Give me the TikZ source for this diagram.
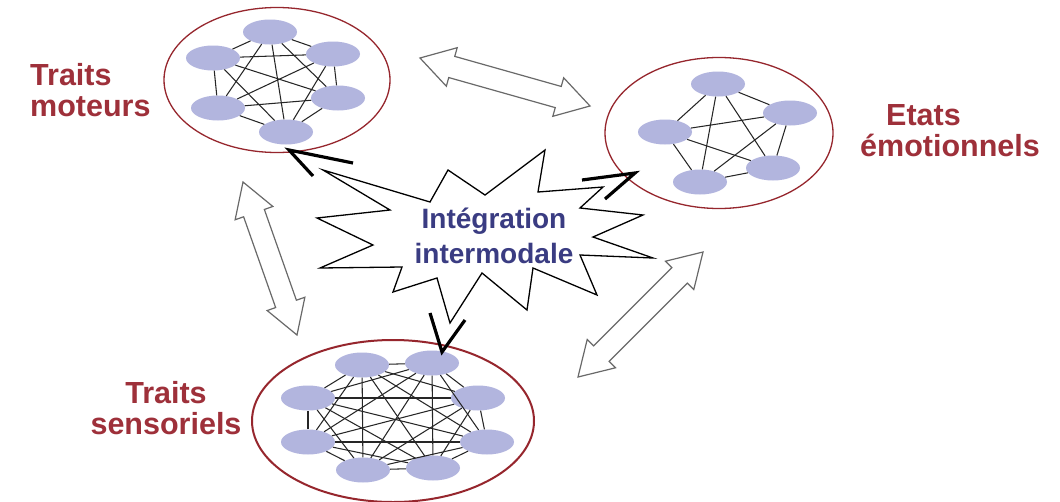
\documentclass[tikz,border=0pt]{standalone}
\usepackage{fontspec}
\setmainfont{Liberation Sans}
\usetikzlibrary{shapes.geometric,calc}
\definecolor{nodefill}{RGB}{178,181,222}
\definecolor{ringred}{RGB}{150,38,45}
\definecolor{labred}{RGB}{158,48,58}
\definecolor{labblue}{RGB}{58,60,130}
\definecolor{hollowgray}{RGB}{105,105,105}
\tikzset{
  nd/.style={ellipse,fill=nodefill,draw=none,minimum width=54pt,minimum height=25pt,inner sep=0pt},
  grp/.style={ellipse,draw=ringred,line width=1.3pt,inner sep=0pt},
  lnk/.style={draw=black!85,line width=1.05pt},
  lab/.style={text=labred,font=\bfseries\fontsize{30.5}{31}\selectfont},
  midlab/.style={text=labblue,font=\bfseries\fontsize{28}{35}\selectfont,align=center},
  burst/.style={draw=black,fill=white,line width=1.3pt,line join=miter},
  vtip/.style={draw=black,line width=3.2pt,line cap=butt,line join=miter},
  hollow/.style={draw=hollowgray,fill=white,line width=1.2pt,line join=miter}
}
\newcommand\dblarr[2]{%
  \draw[hollow] (#1) -- ($(#1)!33pt!(#2)!20pt!90:(#2)$) -- ($(#1)!33pt!(#2)!11pt!90:(#2)$)
   -- ($(#2)!33pt!(#1)!11pt!-90:(#1)$) -- ($(#2)!33pt!(#1)!20pt!-90:(#1)$) -- (#2)
   -- ($(#2)!33pt!(#1)!20pt!90:(#1)$) -- ($(#2)!33pt!(#1)!11pt!90:(#1)$)
   -- ($(#1)!33pt!(#2)!11pt!-90:(#2)$) -- ($(#1)!33pt!(#2)!20pt!-90:(#2)$) -- cycle;}
\begin{document}
\begin{tikzpicture}[x=1pt,y=-1pt]
\useasboundingbox[fill=white] (0,0) rectangle (1060,501);

% hollow double arrows
\coordinate (ta1) at (420,58);  \coordinate (ta2) at (590,106);
\coordinate (la1) at (243,182); \coordinate (la2) at (297,335);
\coordinate (ra1) at (703,252); \coordinate (ra2) at (578,377);
\dblarr{ta1}{ta2}
\dblarr{la1}{la2}
\dblarr{ra1}{ra2}

% group rings
\node[grp,minimum width=226pt,minimum height=145pt] (gm) at (277,80) {};
\node[grp,minimum width=228pt,minimum height=151pt] (ge) at (719,133) {};
\node[grp,line width=2pt,minimum width=282pt,minimum height=162pt] (gs) at (393,421) {};

% motor traits (K6)
\node[nd] (m1) at (270,32) {};
\node[nd] (m2) at (333,54) {};
\node[nd] (m3) at (338,98) {};
\node[nd] (m4) at (286,132) {};
\node[nd] (m5) at (218,108) {};
\node[nd] (m6) at (213,58) {};
\foreach \i in {1,...,5}{
  \pgfmathtruncatemacro\k{\i+1}
  \foreach \j in {\k,...,6}{\draw[lnk] (m\i) -- (m\j);}}

% emotional states (K5)
\node[nd] (e1) at (718,84) {};
\node[nd] (e2) at (790,113) {};
\node[nd] (e3) at (773,168) {};
\node[nd] (e4) at (700,182) {};
\node[nd] (e5) at (665,132) {};
\foreach \i in {1,...,4}{
  \pgfmathtruncatemacro\k{\i+1}
  \foreach \j in {\k,...,5}{\draw[lnk] (e\i) -- (e\j);}}

% sensory traits (K8)
\node[nd] (s1) at (362,365) {};
\node[nd] (s2) at (432,363) {};
\node[nd] (s3) at (478,398) {};
\node[nd] (s4) at (487,442) {};
\node[nd] (s5) at (433,468) {};
\node[nd] (s6) at (363,470) {};
\node[nd] (s7) at (308,442) {};
\node[nd] (s8) at (308,398) {};
\foreach \i in {1,...,7}{
  \pgfmathtruncatemacro\k{\i+1}
  \foreach \j in {\k,...,8}{\draw[lnk] (s\i) -- (s\j);}}

% starburst
\draw[burst] (323,170) -- (430,202) -- (448,170) -- (485,195) -- (545,150) -- (538,192)
  -- (603,187) -- (580,208) -- (643,215) -- (593,237) -- (653,258) -- (580,255)
  -- (597,295) -- (533,268) -- (527,310) -- (482,273) -- (450,323) -- (437,278)
  -- (393,292) -- (402,267) -- (320,268) -- (373,245) -- (317,218) -- (390,210) -- cycle;
\node[midlab] (integ) at (494,236) {Intégration\\intermodale};

% open arrow heads from the burst
\coordinate (vm) at (289,150);
\draw[vtip] (353,163) -- (vm) -- (313,176);
\coordinate (ve) at (635,173);
\draw[vtip] (582,180) -- (ve) -- (605,199);
\coordinate (vs) at (442,352);
\draw[vtip] (430,313) -- (vs) -- (465,320);

% labels
\node[lab,align=left,anchor=west,inner sep=0pt] (lm) at (30,90) {Traits\\moteurs};
\node[lab,align=left,anchor=west,inner sep=0pt] (le) at (860,131) {\hspace*{26pt}Etats\\émotionnels};
\node[lab,align=center,inner sep=0pt] (ls) at (166,408) {Traits\\sensoriels};
\end{tikzpicture}
\end{document}
